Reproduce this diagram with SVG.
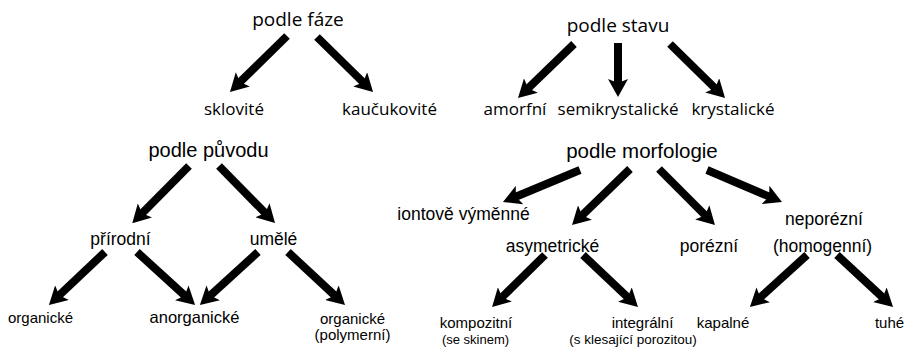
<svg xmlns="http://www.w3.org/2000/svg" width="911" height="348" viewBox="0 0 911 348">
<defs>
<marker id="ah" markerUnits="userSpaceOnUse" viewBox="0 -10 18 20" refX="8" refY="0" markerWidth="18" markerHeight="20" orient="auto">
<path d="M0,-10 L18,0 L0,10 L4,0 z" fill="#000"/>
</marker>
<style>
.c line{stroke:#000;stroke-width:8;marker-end:url(#ah)}
.m{font-family:"Open Sans","Noto Sans",sans-serif;fill:#000;text-anchor:middle}
.h{font-family:"Liberation Sans",Arial,sans-serif;fill:#000;text-anchor:middle}
</style>
</defs>
<rect width="911" height="348" fill="#fff"/>
<g class="c" id="connectors">
<line x1="287" y1="36" x2="237.1" y2="84.9"/>
<line x1="317" y1="37" x2="365.9" y2="85"/>
<line x1="574" y1="44" x2="525.2" y2="91.1"/>
<line x1="618" y1="43" x2="618" y2="87"/>
<line x1="670" y1="44" x2="717.9" y2="91"/>
<line x1="189" y1="166" x2="139.3" y2="216.1"/>
<line x1="219" y1="166" x2="268" y2="215.9"/>
<line x1="105" y1="252" x2="56.2" y2="298.1"/>
<line x1="137" y1="252" x2="187.7" y2="298.2"/>
<line x1="258" y1="252" x2="207.3" y2="298.2"/>
<line x1="288" y1="252" x2="337.7" y2="298.2"/>
<line x1="580" y1="170" x2="512.2" y2="198.2"/>
<line x1="630" y1="169" x2="579.2" y2="218.1"/>
<line x1="659" y1="169" x2="707.9" y2="218"/>
<line x1="707" y1="170" x2="772.8" y2="198.1"/>
<line x1="545" y1="255" x2="499.2" y2="300"/>
<line x1="583" y1="255" x2="630.7" y2="300.1"/>
<line x1="807" y1="255" x2="757.3" y2="300.2"/>
<line x1="837" y1="255" x2="885.7" y2="300.2"/>
</g>
<g id="podle-faze"><text class="m" x="298" y="26" font-size="19">podle fáze</text></g>
<g id="sklovite"><text class="m" x="234" y="115" font-size="17">sklovité</text></g>
<g id="kaucukovite"><text class="m" x="389.5" y="115" font-size="17">kaučukovité</text></g>
<g id="podle-stavu"><text class="m" x="618" y="32" font-size="19">podle stavu</text></g>
<g id="amorfni"><text class="m" x="515" y="115" font-size="17">amorfní</text></g>
<g id="semikrystalicke"><text class="m" x="618" y="115" font-size="17">semikrystalické</text></g>
<g id="krystalicke"><text class="m" x="733" y="115" font-size="17">krystalické</text></g>
<g id="podle-puvodu"><text class="h" x="208.5" y="157" font-size="20">podle původu</text></g>
<g id="prirodni"><text class="h" x="120.5" y="245" font-size="17.5">přírodní</text></g>
<g id="umele"><text class="h" x="273.5" y="245" font-size="17.5">umělé</text></g>
<g id="organicke"><text class="h" x="40.5" y="323" font-size="15">organické</text></g>
<g id="anorganicke"><text class="h" x="194.5" y="323" font-size="16.5">anorganické</text></g>
<g id="organicke-polymerni"><text class="h" x="352.5" y="324" font-size="15">organické</text><text class="h" x="352.5" y="340" font-size="15">(polymerní)</text></g>
<g id="podle-morfologie"><text class="h" x="642" y="158" font-size="20.5">podle morfologie</text></g>
<g id="iontove-vymenne"><text class="h" x="463.5" y="220" font-size="17.5">iontově výměnné</text></g>
<g id="asymetricke"><text class="h" x="552.5" y="252" font-size="17.5">asymetrické</text></g>
<g id="porezni"><text class="h" x="709" y="252" font-size="17.5">porézní</text></g>
<g id="neporezni"><text class="h" x="824" y="225" font-size="17.5">neporézní</text><text class="h" x="822.5" y="252" font-size="17.5">(homogenní)</text></g>
<g id="kompozitni"><text class="h" x="476" y="328" font-size="15">kompozitní</text><text class="h" x="475.5" y="344" font-size="13">(se skinem)</text></g>
<g id="integralni"><text class="h" x="642.5" y="328" font-size="15">integrální</text><text class="h" x="633" y="344" font-size="13.5">(s klesající porozitou)</text></g>
<g id="kapalne"><text class="h" x="723" y="328" font-size="15">kapalné</text></g>
<g id="tuhe"><text class="h" x="889.5" y="328" font-size="15">tuhé</text></g>
</svg>
